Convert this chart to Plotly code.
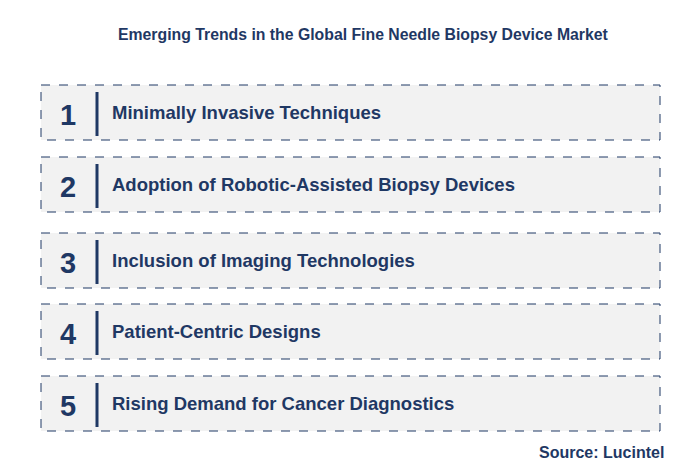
import plotly.graph_objects as go

title = "Emerging Trends in the Global Fine Needle Biopsy Device Market"
numbers = ["1", "2", "3", "4", "5"]
trends = ["Minimally Invasive Techniques",
          "Adoption of Robotic-Assisted Biopsy Devices",
          "Inclusion of Imaging Technologies",
          "Patient-Centric Designs",
          "Rising Demand for Cancer Diagnostics"]
source = "Source: Lucintel"

W, H = 676, 470
OFF = 8
navy = "#1f3864"
fig = go.Figure()
shapes, ann = [], []
tops = [85, 157, 233, 304, 376]
for i, (n, t) in enumerate(zip(numbers, trends)):
    y0 = tops[i]; y1 = y0 + 55
    shapes.append(dict(type="rect", x0=41, x1=660, y0=y0, y1=y1, xref="x", yref="y",
                       fillcolor="#f2f2f2", line=dict(color=navy, width=1, dash="dash")))
    shapes.append(dict(type="line", x0=97, x1=97, y0=y0 + 7, y1=y1 - 4, xref="x", yref="y",
                       line=dict(color=navy, width=3)))
    yc = (y0 + y1) / 2
    ann.append(dict(x=68, y=yc + 2, text=f"<b>{n}</b>", showarrow=False, xref="x", yref="y",
                    font=dict(size=29, color=navy, family="Arial")))
    ann.append(dict(x=110, y=yc, text=f"<b>{t}</b>", showarrow=False, xanchor="left",
                    xref="x", yref="y", font=dict(size=18.5, color=navy, family="Arial")))
ann.append(dict(x=363, y=34, text=f"<b>{title}</b>", showarrow=False, xref="x", yref="y",
                font=dict(size=15.8, color=navy, family="Arial")))
ann.append(dict(x=666, y=452, text=f"<b>{source}</b>", showarrow=False, xanchor="right",
                xref="x", yref="y", font=dict(size=16, color=navy, family="Arial")))

fig.update_layout(width=W, height=H, margin=dict(l=0, r=0, t=0, b=0),
                  plot_bgcolor="white", paper_bgcolor="white",
                  xaxis=dict(range=[OFF, W + OFF], visible=False, fixedrange=True),
                  yaxis=dict(range=[H + OFF, OFF], visible=False, fixedrange=True),
                  shapes=shapes, annotations=ann, showlegend=False)
fig.write_html("out.html")
